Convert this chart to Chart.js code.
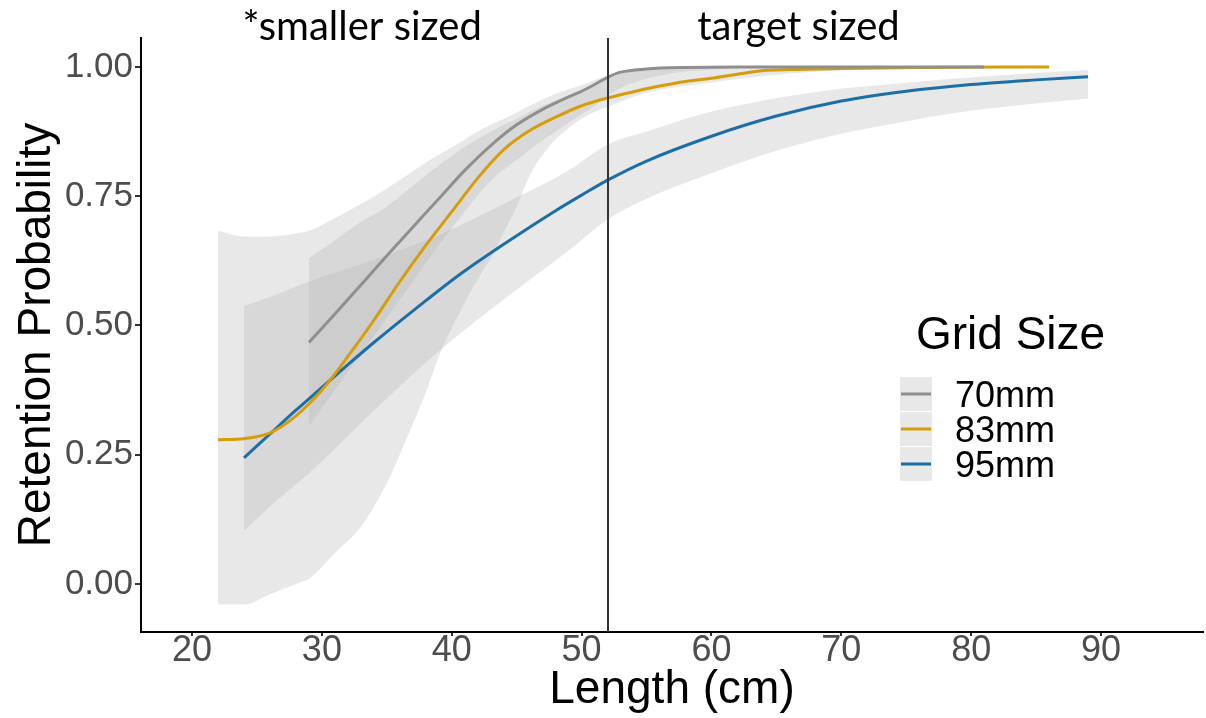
<!DOCTYPE html>
<html>
<head>
<meta charset="utf-8">
<script src="https://cdn.jsdelivr.net/npm/chart.js@4.4.0/dist/chart.umd.min.js"></script>
<style>
    html, body { margin: 0; padding: 0; background: #ffffff; }
    #wrap { width: 1206px; height: 718px; }
</style>
</head>
<body>
<div id="wrap"><canvas id="grafica" width="1206" height="718"></canvas></div>
<script>
// Datos (longitud en cm, probabilidad de retencion)
const grupos = ['70mm', '83mm', '95mm'];
const coloresLinea = ['#8f8f8f', '#d69d0b', '#1b6ea6'];

const ticksX = [20, 30, 40, 50, 60, 70, 80, 90];
const ticksY = [0, 0.25, 0.5, 0.75, 1];
const limiteTalla = 52;

// 70mm
const x70 = [29, 31, 33, 35, 37, 39, 41, 43, 45, 47, 49, 50, 51, 52, 53, 55, 58, 62, 70, 81];
const p70 = [0.467, 0.522, 0.578, 0.635, 0.69, 0.745, 0.80, 0.848, 0.888, 0.918, 0.942, 0.953, 0.966, 0.98, 0.99, 0.996, 0.999, 1.0, 1.0, 1.0];
const xBanda70 = [29, 31, 33, 35, 37, 39, 41, 43, 45, 47, 49, 51, 52, 54, 57, 60, 65, 81];
const inf70 = [0.305, 0.375, 0.445, 0.515, 0.585, 0.655, 0.72, 0.78, 0.82, 0.858, 0.892, 0.925, 0.945, 0.97, 0.988, 0.995, 1.0, 1.0];
const sup70 = [0.63, 0.665, 0.70, 0.73, 0.77, 0.81, 0.845, 0.875, 0.90, 0.925, 0.945, 0.965, 0.978, 0.993, 0.999, 1.0, 1.0, 1.0];

// 83mm
const x83 = [22, 24, 26, 28, 30, 32, 34, 36, 38, 40, 42, 44, 46, 48, 50, 52, 54, 56, 58, 60, 62, 64, 66, 70, 76, 86];
const p83 = [0.279, 0.281, 0.292, 0.325, 0.375, 0.44, 0.51, 0.585, 0.655, 0.72, 0.785, 0.84, 0.877, 0.903, 0.925, 0.94, 0.952, 0.963, 0.972, 0.978, 0.986, 0.993, 0.995, 0.997, 0.999, 1.0];
const xBanda83 = [22, 24, 26, 28, 29, 31, 33, 35, 36.5, 38, 39, 40.5, 42, 43, 44, 45, 46, 47, 48, 50, 52, 55, 60, 65, 70, 80, 86];
const inf83 = [-0.04, -0.04, -0.02, 0.0, 0.01, 0.06, 0.11, 0.195, 0.28, 0.37, 0.44, 0.52, 0.59, 0.63, 0.68, 0.73, 0.79, 0.83, 0.86, 0.9, 0.923, 0.95, 0.97, 0.985, 0.993, 0.999, 1.0];
const sup83 = [0.683, 0.672, 0.672, 0.678, 0.683, 0.708, 0.735, 0.765, 0.79, 0.815, 0.83, 0.852, 0.875, 0.888, 0.9, 0.912, 0.925, 0.937, 0.948, 0.965, 0.983, 0.995, 1.0, 1.0, 1.0, 1.0, 1.0];

// 95mm
const x95 = [24, 26, 28, 30, 32, 34, 36, 38, 40, 42, 44, 46, 48, 50, 52, 55, 60, 65, 70, 75, 80, 85, 89];
const p95 = [0.244, 0.29, 0.336, 0.38, 0.424, 0.467, 0.508, 0.548, 0.587, 0.623, 0.657, 0.69, 0.722, 0.752, 0.781, 0.818, 0.866, 0.905, 0.934, 0.953, 0.966, 0.975, 0.981];
const xBanda95 = [24, 26, 29, 34, 39, 44, 49, 52, 55, 59, 64, 69, 74, 79, 84, 89];
const inf95 = [0.103, 0.15, 0.214, 0.335, 0.45, 0.55, 0.645, 0.705, 0.745, 0.785, 0.83, 0.865, 0.89, 0.912, 0.927, 0.939];
const sup95 = [0.538, 0.555, 0.585, 0.627, 0.675, 0.735, 0.80, 0.85, 0.875, 0.907, 0.935, 0.955, 0.967, 0.978, 0.987, 0.994];

const lineas = [[x70, p70], [x83, p83], [x95, p95]];
const bandas = [[xBanda70, inf70, sup70], [xBanda83, inf83, sup83], [xBanda95, inf95, sup95]];

const rellenoBanda = 'rgba(179,179,179,0.3)';
const fuenteTexto = '"Liberation Sans", Arial, sans-serif';

function puntos(xs, ys) {
    return xs.map((x, i) => ({ x: x, y: ys[i] }));
}

const datasets = [];
// Bandas de confianza
bandas.forEach((b, i) => {
    datasets.push({
        label: grupos[i] + ' inf',
        data: puntos(b[0], b[1]),
        borderWidth: 0,
        borderColor: 'rgba(0,0,0,0)',
        pointRadius: 0,
        fill: false,
        cubicInterpolationMode: 'monotone',
        order: 2
    });
    datasets.push({
        label: grupos[i] + ' sup',
        data: puntos(b[0], b[2]),
        borderWidth: 0,
        borderColor: 'rgba(0,0,0,0)',
        backgroundColor: rellenoBanda,
        pointRadius: 0,
        fill: '-1',
        cubicInterpolationMode: 'monotone',
        order: 2
    });
});
// Curvas ajustadas
lineas.forEach((l, i) => {
    datasets.push({
        label: grupos[i],
        data: puntos(l[0], l[1]),
        borderColor: coloresLinea[i],
        borderWidth: 3,
        pointRadius: 0,
        fill: false,
        cubicInterpolationMode: 'monotone',
        order: 1
    });
});

// Linea vertical, textos de zona y leyenda
const extras = {
    id: 'extras',
    afterDatasetsDraw(chart) {
        const ctx = chart.ctx;
        const area = chart.chartArea;
        const sx = chart.scales.x;

        const xl = Math.round(sx.getPixelForValue(limiteTalla));
        ctx.save();
        ctx.strokeStyle = '#333333';
        ctx.lineWidth = 2;
        ctx.beginPath();
        ctx.moveTo(xl, area.top);
        ctx.lineTo(xl, area.bottom);
        ctx.stroke();

        ctx.fillStyle = '#000000';
        ctx.font = '40px Lato, "Open Sans", sans-serif';
        ctx.textAlign = 'center';
        ctx.textBaseline = 'alphabetic';
        ctx.fillText('*smaller sized', sx.getPixelForValue(33.1), 40);
        ctx.fillText('target sized', sx.getPixelForValue(66.7), 40);

        // Leyenda
        const lx = 900, ly = 377, kw = 32, kh = 34;
        ctx.textAlign = 'left';
        ctx.font = '46px ' + fuenteTexto;
        ctx.fillText('Grid Size', 916, 349);
        ctx.font = '36px ' + fuenteTexto;
        grupos.forEach((g, i) => {
            const y0 = ly + i * (kh + 1);
            ctx.fillStyle = '#e8e8e8';
            ctx.fillRect(lx, y0, kw, kh);
            ctx.strokeStyle = coloresLinea[i];
            ctx.lineWidth = 3;
            ctx.beginPath();
            ctx.moveTo(lx + 1, y0 + kh / 2);
            ctx.lineTo(lx + kw - 1, y0 + kh / 2);
            ctx.stroke();
            ctx.fillStyle = '#000000';
            ctx.fillText(g, 955, y0 + kh / 2 + 13);
        });
        ctx.restore();
    }
};

new Chart(document.getElementById('grafica'), {
    type: 'line',
    data: { datasets: datasets },
    plugins: [extras],
    options: {
        responsive: false,
        animation: false,
        devicePixelRatio: 1,
        layout: { padding: { top: 38, right: 3, left: 0, bottom: 0 } },
        plugins: {
            legend: { display: false },
            tooltip: { enabled: false }
        },
        scales: {
            x: {
                type: 'linear',
                min: 16.07,
                max: 97.85,
                afterBuildTicks: s => { s.ticks = ticksX.map(v => ({ value: v })); },
                afterFit: s => { s.height = 86; },
                ticks: {
                    font: { size: 36, family: fuenteTexto, lineHeight: 1 },
                    color: '#4d4d4d',
                    padding: -3,
                    maxRotation: 0,
                    autoSkip: false
                },
                grid: { display: true, drawOnChartArea: false, drawTicks: true, tickLength: 4, color: '#333333', lineWidth: 2 },
                border: { display: true, color: '#000000', width: 2 },
                title: { display: true, text: 'Length (cm)', color: '#000000', font: { size: 46, family: fuenteTexto }, padding: 0 }
            },
            y: {
                type: 'linear',
                min: -0.093,
                max: 1.056,
                afterBuildTicks: s => { s.ticks = ticksY.map(v => ({ value: v })); },
                afterFit: s => { s.width = 141; },
                ticks: {
                    font: { size: 35, family: fuenteTexto },
                    color: '#4d4d4d',
                    padding: 2,
                    callback: v => v.toFixed(2),
                    autoSkip: false
                },
                grid: { display: true, drawOnChartArea: false, drawTicks: true, tickLength: 6, color: '#333333', lineWidth: 2 },
                border: { display: true, color: '#000000', width: 2 },
                title: { display: true, text: 'Retention Probability', color: '#000000', font: { size: 46, family: fuenteTexto }, padding: { top: 10, bottom: 0 } }
            }
        }
    }
});
</script>
</body>
</html>
